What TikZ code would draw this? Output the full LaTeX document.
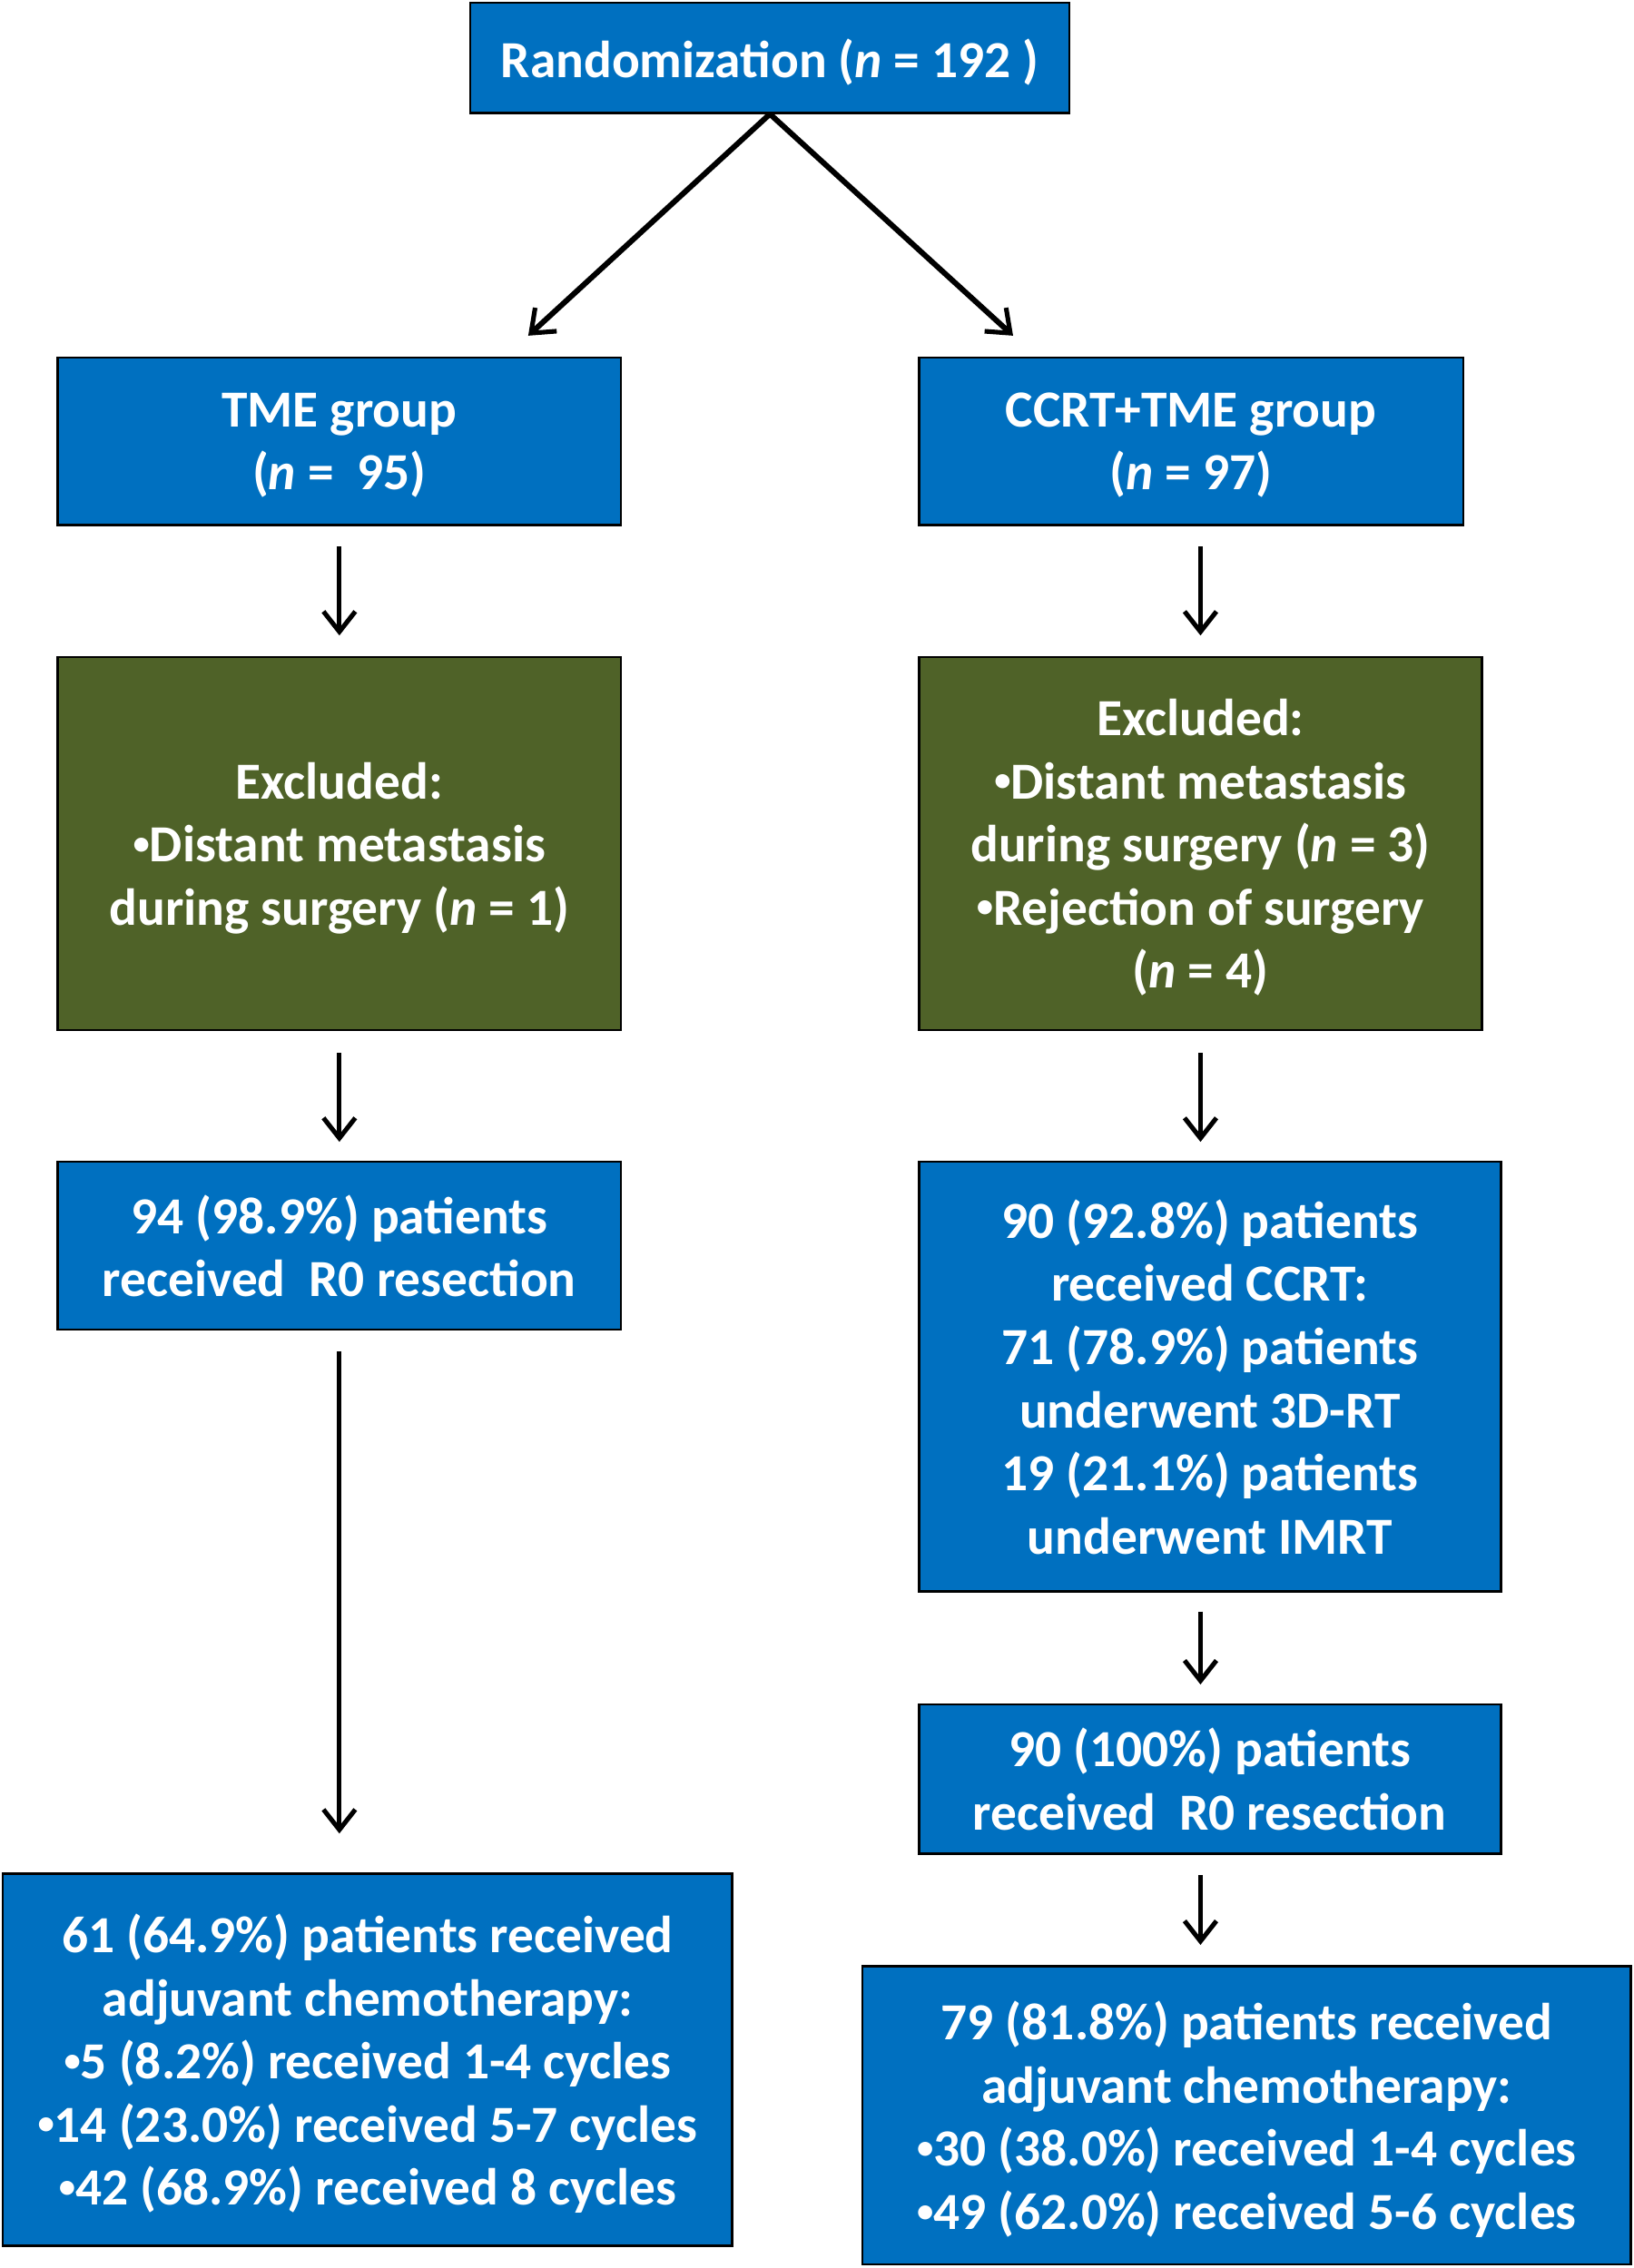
\documentclass[tikz,border=0pt]{standalone}
\usepackage{fontspec}
\setmainfont{Carlito}
\usetikzlibrary{arrows.meta}
\definecolor{boxblue}{HTML}{0070C0}
\definecolor{boxgreen}{HTML}{4F6228}
\newcommand{\bul}{\raisebox{2.6pt}{\fontsize{11.5}{11.5}\selectfont•}}
\begin{document}
\begin{tikzpicture}[x=0.5pt,y=-0.5pt,
  box/.style 2 args={draw=black, line width=0.8pt, fill=boxblue, text=white,
    font=\fontsize{18}{21.8}\selectfont\bfseries, align=center, inner sep=0pt,
    text depth=0pt, execute at begin node={\rule{0pt}{0.76em}},
    minimum width=#1*0.5pt, minimum height=#2*0.5pt},
  gbox/.style 2 args={box={#1}{#2}, fill=boxgreen},
  arr/.style={draw=black, line width=1.5pt, -{Straight Barb[length=7pt,width=11pt,line width=1.6pt]}},
  darr/.style={arr, line width=1.9pt}
]
\useasboundingbox (0,0) rectangle (1129,1567.5);

\node[box={414}{76}] (rand) at (532,40) {Randomization (\textit{n} = 192 )};
\node[box={389}{116}] (tme) at (234.5,305) {TME group\\(\textit{n} =\ \ 95)};
\node[box={376}{116}] (ccrt) at (823,305) {CCRT+TME group\\(\textit{n} = 97)};
\node[gbox={389}{258}] (exL) at (234.5,583) {Excluded:\\\bul Distant metastasis\\during surgery (\textit{n} = 1)};
\node[gbox={389}{258}] (exR) at (829.5,583) {Excluded:\\\bul Distant metastasis\\during surgery (\textit{n} = 3)\\\bul Rejection of surgery\\(\textit{n} = 4)};
\node[box={389}{116}] (r0L) at (234.5,861) {94 (98.9\%) patients\\received\ \ R0 resection};
\node[box={402}{297}] (crt) at (836,951.5) {90 (92.8\%) patients\\received CCRT:\\71 (78.9\%) patients\\underwent 3D-RT\\19 (21.1\%) patients\\underwent IMRT};
\node[box={402}{103}] (r0R) at (836,1229.5) {90 (100\%) patients\\received\ \ R0 resection};
\node[box={504}{257}] (chL) at (254,1423.5) {61 (64.9\%) patients received\\adjuvant chemotherapy:\\\bul 5 (8.2\%) received 1-4 cycles\\\bul 14 (23.0\%) received 5-7 cycles\\\bul 42 (68.9\%) received 8 cycles};
\node[box={531}{206}] (chR) at (861.5,1462) {79 (81.8\%) patients received\\adjuvant chemotherapy:\\\bul 30 (38.0\%) received 1-4 cycles\\\bul 49 (62.0\%) received 5-6 cycles};

\coordinate (dl) at (365,232);
\coordinate (dr) at (700,232);
\draw[darr] (rand.south) -- (dl);
\draw[darr] (rand.south) -- (dr);

\draw[arr, shorten <=7pt, shorten >=7pt] (tme.south) -- (exL.north);
\draw[arr, shorten <=7pt, shorten >=7pt] (ccrt.south -| exR.north) -- (exR.north);
\draw[arr, shorten <=7.5pt, shorten >=6.5pt] (exL.south) -- (r0L.north);
\draw[arr, shorten <=7.5pt, shorten >=6.5pt] (exR.south) -- (crt.north -| exR.south);
\draw[arr, shorten <=7pt, shorten >=13.5pt] (r0L.south) -- (chL.north -| r0L.south);
\draw[arr, shorten <=6.5pt, shorten >=6.5pt] (crt.south -| exR.south) -- (r0R.north -| exR.south);
\draw[arr, shorten <=7pt, shorten >=7pt] (r0R.south -| exR.south) -- (chR.north -| exR.south);
\end{tikzpicture}
\end{document}
